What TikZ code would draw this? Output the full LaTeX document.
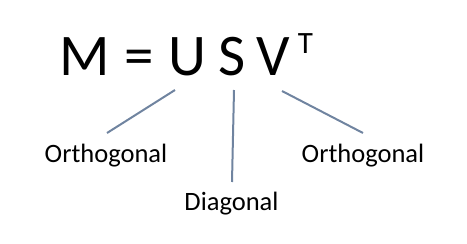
\documentclass[tikz,border=0pt]{standalone}
\usepackage{fontspec}
\setmainfont{Carlito}
\definecolor{linkblue}{RGB}{112,132,160}
\begin{document}
\begin{tikzpicture}[x=1pt,y=-1pt,
  big/.style={inner sep=0pt,anchor=base,font=\fontsize{59}{59}\selectfont},
  small/.style={inner sep=0pt,anchor=base,font=\fontsize{26.5}{26.5}\selectfont},
  link/.style={draw=linkblue,line width=2pt}]
  \useasboundingbox (0,0) rectangle (467,244);
  % the factorisation
  \node[big] (M) at (85,75) {M};
  \node[big] (eq) at (139.5,75) {=};
  \node[big] (U) at (187,75) {U};
  \node[big] (S) at (232.5,75) {S};
  \node[big] (V) at (273,75) {V};
  \node[inner sep=0pt,anchor=base,font=\fontsize{31}{31}\selectfont] (T) at (305.5,53) {T};
  % what each factor is
  \node[small] (lo) at (106,162) {Orthogonal};
  \node[small] (dg) at (231.5,210) {Diagonal};
  \node[small] (ro) at (363,162) {Orthogonal};
  % connectors
  \draw[link] ([shift={(-12,15)}]U.base) -- ([shift={(1,-29)}]lo.base);
  \draw[link] ([shift={(1.5,15)}]S.base) -- ([shift={(0.5,-28)}]dg.base);
  \draw[link] ([shift={(9,16)}]V.base) -- ([shift={(0,-29)}]ro.base);
\end{tikzpicture}
\end{document}
